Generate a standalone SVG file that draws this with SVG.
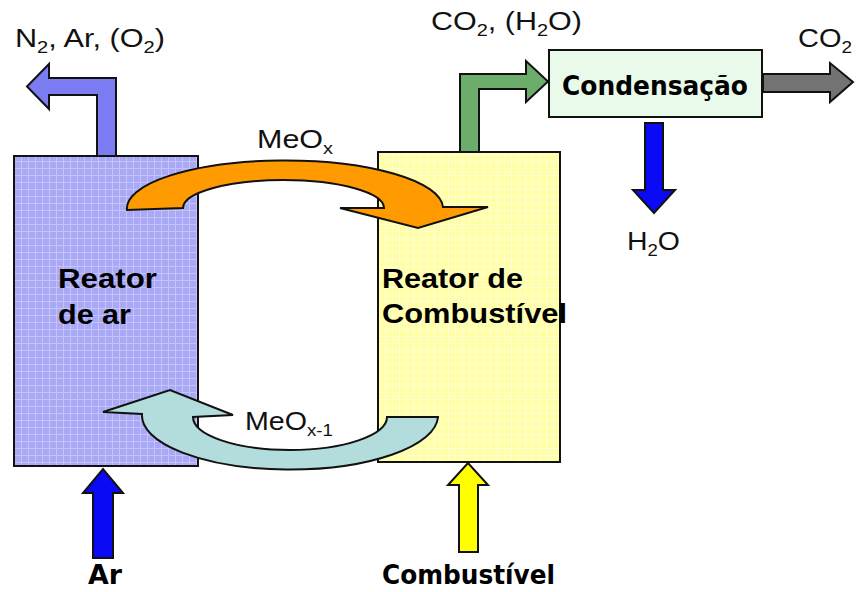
<svg xmlns="http://www.w3.org/2000/svg" width="856" height="592" viewBox="0 0 856 592">
<defs>
<pattern id="gridB" width="7" height="7" patternUnits="userSpaceOnUse"><rect width="7" height="7" fill="#a9a9f5"/><path d="M0,0.5H7M0.5,0V7" stroke="#c4c4fa" stroke-width="1"/></pattern>
<pattern id="gridY" width="7" height="7" patternUnits="userSpaceOnUse"><rect width="7" height="7" fill="#ffffa8"/><path d="M0,0.5H7M0.5,0V7" stroke="#ffffd2" stroke-width="1"/></pattern>
</defs>
<style>
.box{stroke:#111;stroke-width:2}
.arr{stroke:#111;stroke-width:2;stroke-linejoin:miter}
.lbl{font-family:"Liberation Sans",Arial,sans-serif;font-size:26px;fill:#111}
.blbl{font-family:"Liberation Sans",Arial,sans-serif;font-size:27px;font-weight:bold;fill:#000}
.wlbl{font-family:"DejaVu Sans",Verdana,sans-serif;font-size:26px;font-weight:bold;fill:#000}
.big{font-size:27px}
.sub{font-size:17px}
</style>
<rect width="856" height="592" fill="#fff"/>

<g id="reator-ar">
<rect class="box" x="14" y="156" width="184" height="310" fill="url(#gridB)"/>
</g>
<g id="reator-combustivel">
<rect class="box" x="378" y="152" width="182" height="310" fill="url(#gridY)"/>
</g>
<g id="condensacao">
<rect class="box" x="549" y="50" width="213" height="67" fill="#eafaea"/>
<text class="wlbl" x="562" y="95" textLength="186" lengthAdjust="spacingAndGlyphs">Condensação</text>
</g>

<g id="connectors">
<path id="saida-ar" class="arr" fill="#7c7cf2" d="M116,156 L116,78 L49,78 L49,64 L27,86.5 L49,109 L49,95 L97,95 L97,156 Z"/>
<path id="saida-comb" class="arr" fill="#6cad6c" d="M460,152 L460,74 L526,74 L526,61 L548,81.5 L526,102 L526,89 L479,89 L479,152 Z"/>
<path id="saida-co2" class="arr" fill="#737373" d="M763,74 L830,74 L830,63 L853,82 L830,102 L830,92 L763,92 Z"/>
<path id="saida-h2o" class="arr" fill="#0a0af5" d="M645,123 L663,123 L663,190 L675,190 L654,213 L633,190 L645,190 Z"/>
<path id="entrada-ar" class="arr" fill="#0a0af5" d="M93,558 L93,493 L83,493 L103,469 L123,493 L113,493 L113,558 Z"/>
<path id="entrada-comb" class="arr" fill="#ffff00" d="M459,552 L459,485 L448,485 L468,463 L488,485 L478,485 L478,552 Z"/>
<path id="meox" class="arr" fill="#ff9a00" d="M127,210 A158,48 0 0 1 443,207 L488,207 L418,228 L340,208 L384,208 A100.5,28 0 0 0 183,208 Z"/>
<path id="meox-1" class="arr" fill="#b3dcdc" d="M438,417 A148,54 0 0 1 142,414 L103,412 L170,390 L233,415 L193,417 A97,33 0 0 0 387,417 Z"/>
</g>

<g id="labels">
<text class="lbl" x="15" y="47" textLength="150" lengthAdjust="spacingAndGlyphs">N<tspan class="sub" dy="6">2</tspan><tspan dy="-6">, Ar, (O</tspan><tspan class="sub" dy="6">2</tspan><tspan dy="-6">)</tspan></text>
<text class="lbl" x="431" y="30" textLength="151" lengthAdjust="spacingAndGlyphs">CO<tspan class="sub" dy="6">2</tspan><tspan dy="-6">, (H</tspan><tspan class="sub" dy="6">2</tspan><tspan dy="-6">O)</tspan></text>
<text class="lbl" x="798" y="47" textLength="54" lengthAdjust="spacingAndGlyphs">CO<tspan class="sub" dy="6">2</tspan></text>
<text class="lbl" x="627" y="250" textLength="53" lengthAdjust="spacingAndGlyphs">H<tspan class="sub" dy="6">2</tspan><tspan dy="-6">O</tspan></text>
<text class="lbl" x="257" y="148" textLength="76" lengthAdjust="spacingAndGlyphs">MeO<tspan class="sub" dy="6">x</tspan></text>
<text class="lbl" x="245" y="430" textLength="88" lengthAdjust="spacingAndGlyphs">MeO<tspan class="sub" dy="6">x-1</tspan></text>
<text class="blbl" x="58" y="288" textLength="99" lengthAdjust="spacingAndGlyphs">Reator</text>
<text class="blbl" x="58" y="324" textLength="73" lengthAdjust="spacingAndGlyphs">de ar</text>
<text class="blbl" x="382" y="288" textLength="141" lengthAdjust="spacingAndGlyphs">Reator de</text>
<text class="blbl" x="382" y="323" textLength="185" lengthAdjust="spacingAndGlyphs">Combustível</text>
<text class="wlbl big" x="88" y="584" textLength="34" lengthAdjust="spacingAndGlyphs">Ar</text>
<text class="wlbl big" x="382" y="584" textLength="173" lengthAdjust="spacingAndGlyphs">Combustível</text>
</g>
</svg>
